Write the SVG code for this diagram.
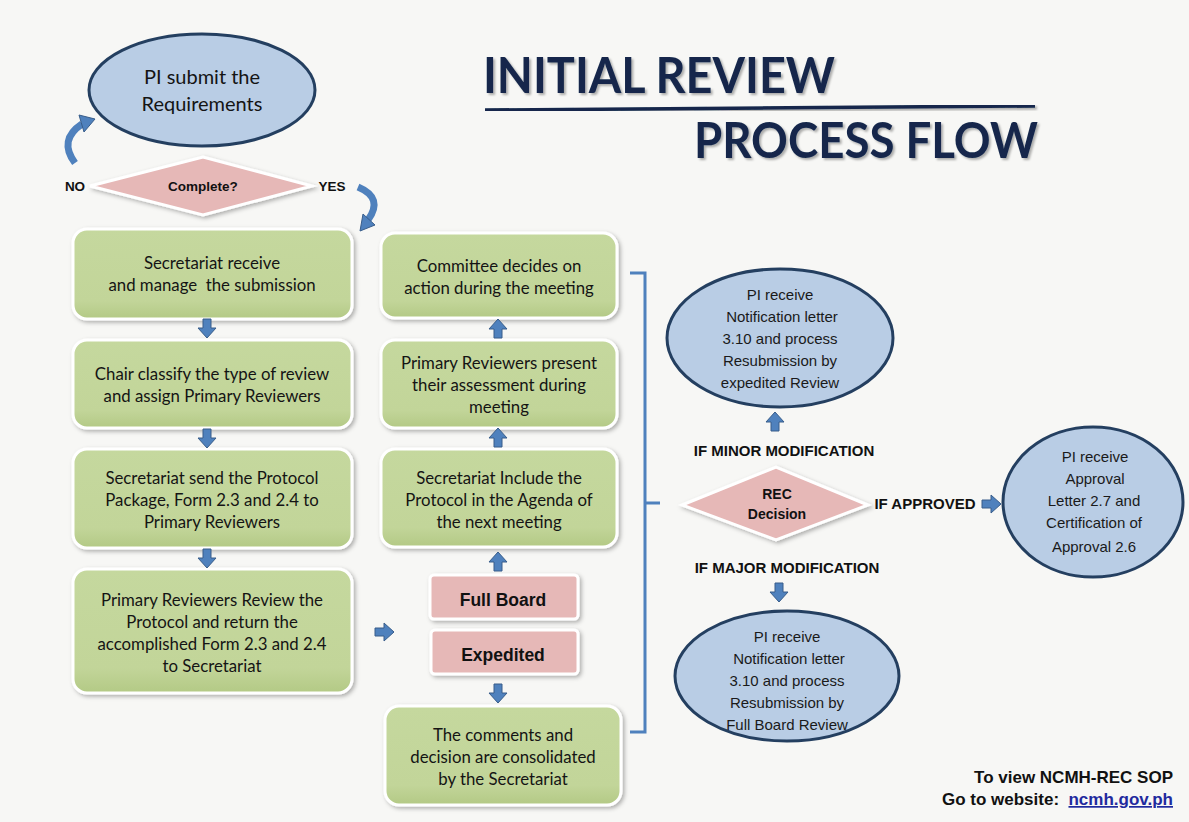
<svg xmlns="http://www.w3.org/2000/svg" width="1189" height="822" viewBox="0 0 1189 822">
<defs>
<style>
.bg{fill:#f7f7f5}
.green{fill:url(#gg);stroke:#ffffff;stroke-width:3}
.pink{fill:#e6b8b7;stroke:#ffffff;stroke-width:3}
.ell{fill:#b9cde5;stroke:#243f60;stroke-width:3}
.gt{font-family:Lato,"Open Sans",sans-serif;font-size:16.8px;fill:#141414;text-anchor:middle;white-space:pre}
.et{font-family:"Liberation Sans",Arial,sans-serif;font-size:15px;fill:#1a1a1a;text-anchor:middle}
.bt{font-family:"Liberation Sans",Arial,sans-serif;font-weight:bold;fill:#111111;text-anchor:middle}
.title{font-family:Lato,"Open Sans",sans-serif;font-weight:bold;font-size:50px;fill:#14284b}
.ft{font-family:"Liberation Sans",Arial,sans-serif;font-weight:bold;font-size:17px;fill:#111;text-anchor:end;white-space:pre}
.arr{fill:#4f81bd;stroke:#385d8a;stroke-width:1}
.curve{fill:none;stroke:#4f81bd;stroke-width:7}
.brace{fill:none;stroke:#4f81bd;stroke-width:3}
</style>
<linearGradient id="gg" x1="0" y1="0" x2="0" y2="1">
<stop offset="0" stop-color="#c5d89e"/>
<stop offset="0.8" stop-color="#c2d599"/>
<stop offset="1" stop-color="#b3c985"/>
</linearGradient>
<filter id="sh" x="-10%" y="-10%" width="125%" height="130%">
<feDropShadow dx="2" dy="2" stdDeviation="2" flood-color="#000" flood-opacity="0.3"/>
</filter>
<filter id="tsh" x="-5%" y="-10%" width="110%" height="130%">
<feDropShadow dx="2" dy="2" stdDeviation="1.2" flood-color="#000" flood-opacity="0.3"/>
</filter>
<path id="ad" d="M-4,0 H4 V9 H9 L0,19 L-9,9 H-4 Z"/>
</defs>

<rect class="bg" x="0" y="0" width="1189" height="822"/>

<g id="title">
<text class="title" x="483" y="93" textLength="352" lengthAdjust="spacingAndGlyphs" filter="url(#tsh)">INITIAL REVIEW</text>
<path d="M485,110 L1035,106" stroke="#14284b" stroke-width="3.5" fill="none" filter="url(#tsh)"/>
<text class="title" x="694" y="158" textLength="344" lengthAdjust="spacingAndGlyphs" filter="url(#tsh)">PROCESS FLOW</text>
</g>

<g id="start">
<ellipse class="ell" cx="202" cy="90" rx="113" ry="56"/>
<text class="gt" x="202" y="84" style="font-size:20px">PI submit the</text>
<text class="gt" x="202" y="111" style="font-size:20px">Requirements</text>
</g>

<g id="complete">
<polygon class="pink" points="90,186 203,157 312,186 203,215" filter="url(#sh)"/>
<text class="bt" x="203" y="191" style="font-size:13.5px">Complete?</text>
<text class="bt" x="75" y="191" style="font-size:13.5px">NO</text>
<text class="bt" x="332" y="191" style="font-size:13.5px">YES</text>
</g>

<g id="L1"><rect class="green" x="73" y="229" width="279" height="90" rx="14" filter="url(#sh)"/>
<text class="gt" x="212" y="269">Secretariat receive</text>
<text class="gt" x="212" y="291">and manage  the submission</text></g>

<g id="L2"><rect class="green" x="73" y="340" width="279" height="88" rx="14" filter="url(#sh)"/>
<text class="gt" x="212" y="380">Chair classify the type of review</text>
<text class="gt" x="212" y="402">and assign Primary Reviewers</text></g>

<g id="L3"><rect class="green" x="73" y="449" width="279" height="99" rx="14" filter="url(#sh)"/>
<text class="gt" x="212" y="484">Secretariat send the Protocol</text>
<text class="gt" x="212" y="506">Package, Form 2.3 and 2.4 to</text>
<text class="gt" x="212" y="528">Primary Reviewers</text></g>

<g id="L4"><rect class="green" x="73" y="569" width="279" height="124" rx="14" filter="url(#sh)"/>
<text class="gt" x="212" y="606">Primary Reviewers Review the</text>
<text class="gt" x="212" y="628">Protocol and return the</text>
<text class="gt" x="212" y="650">accomplished Form 2.3 and 2.4</text>
<text class="gt" x="212" y="672">to Secretariat</text></g>

<g id="M1"><rect class="green" x="381" y="233" width="236" height="85" rx="14" filter="url(#sh)"/>
<text class="gt" x="499" y="272">Committee decides on</text>
<text class="gt" x="499" y="294">action during the meeting</text></g>

<g id="M2"><rect class="green" x="381" y="340" width="236" height="88" rx="14" filter="url(#sh)"/>
<text class="gt" x="499" y="369">Primary Reviewers present</text>
<text class="gt" x="499" y="391">their assessment during</text>
<text class="gt" x="499" y="413">meeting</text></g>

<g id="M3"><rect class="green" x="381" y="449" width="236" height="98" rx="14" filter="url(#sh)"/>
<text class="gt" x="499" y="484">Secretariat Include the</text>
<text class="gt" x="499" y="506">Protocol in the Agenda of</text>
<text class="gt" x="499" y="528">the next meeting</text></g>

<g id="fullboard"><rect class="pink" x="430" y="575" width="148" height="44" rx="4" filter="url(#sh)"/>
<text class="bt" x="503" y="606" style="font-size:17.5px">Full Board</text></g>

<g id="expedited"><rect class="pink" x="431" y="630" width="147" height="44" rx="4" filter="url(#sh)"/>
<text class="bt" x="503" y="661" style="font-size:17.5px">Expedited</text></g>

<g id="M4"><rect class="green" x="385" y="706" width="236" height="99" rx="14" filter="url(#sh)"/>
<text class="gt" x="503" y="741">The comments and</text>
<text class="gt" x="503" y="763">decision are consolidated</text>
<text class="gt" x="503" y="785">by the Secretariat</text></g>

<g id="minor">
<ellipse class="ell" cx="780" cy="338" rx="113" ry="69"/>
<text class="et" x="780" y="300">PI receive</text>
<text class="et" x="782" y="322">Notification letter</text>
<text class="et" x="780" y="344">3.10 and process</text>
<text class="et" x="780" y="366">Resubmission by</text>
<text class="et" x="780" y="388">expedited Review</text>
</g>

<g id="decision">
<polygon class="pink" points="682,505 776,467 868,505 776,540" filter="url(#sh)"/>
<text class="bt" x="777" y="499" style="font-size:14px">REC</text>
<text class="bt" x="777" y="519" style="font-size:14px">Decision</text>
</g>

<g id="major">
<ellipse class="ell" cx="787" cy="676" rx="112" ry="65"/>
<text class="et" x="787" y="642">PI receive</text>
<text class="et" x="789" y="664">Notification letter</text>
<text class="et" x="787" y="686">3.10 and process</text>
<text class="et" x="787" y="708">Resubmission by</text>
<text class="et" x="787" y="730">Full Board Review</text>
</g>

<g id="approved">
<ellipse class="ell" cx="1093" cy="502" rx="90" ry="75"/>
<text class="et" x="1095" y="462">PI receive</text>
<text class="et" x="1095" y="484">Approval</text>
<text class="et" x="1094" y="506">Letter 2.7 and</text>
<text class="et" x="1094" y="528">Certification of</text>
<text class="et" x="1094" y="552">Approval 2.6</text>
</g>

<g id="labels">
<text class="bt" x="784" y="456" style="font-size:15px">IF MINOR MODIFICATION</text>
<text class="bt" x="925" y="509" style="font-size:15px">IF APPROVED</text>
<text class="bt" x="787" y="573" style="font-size:15px">IF MAJOR MODIFICATION</text>
</g>

<g id="connectors">
<path class="curve" d="M75,163 Q58,140 82,124"/>
<polygon class="arr" points="79,115 95,119 84,132"/>
<path class="curve" d="M358,187 Q384,198 368,220"/>
<polygon class="arr" points="360,231 363,214 375,225"/>
<use href="#ad" class="arr" x="207" y="319"/>
<use href="#ad" class="arr" x="207" y="429"/>
<use href="#ad" class="arr" x="207" y="549"/>
<use href="#ad" class="arr" transform="translate(498,338) rotate(180)"/>
<use href="#ad" class="arr" transform="translate(498,447) rotate(180)"/>
<use href="#ad" class="arr" transform="translate(498,571) rotate(180)"/>
<use href="#ad" class="arr" x="498" y="684"/>
<use href="#ad" class="arr" transform="translate(375,632) rotate(-90)"/>
<use href="#ad" class="arr" transform="translate(775,431) rotate(180)"/>
<use href="#ad" class="arr" x="779" y="583"/>
<use href="#ad" class="arr" transform="translate(982,504) rotate(-90)"/>
<path class="brace" d="M630,273 H645 V732 H630 M645,503 H660"/>
</g>

<g id="footer">
<text class="ft" x="1173" y="783">To view NCMH-REC SOP</text>
<text class="ft" x="1173" y="805">Go to website:  <tspan style="fill:#1f2a9e;text-decoration:underline">ncmh.gov.ph</tspan></text>
</g>
</svg>
